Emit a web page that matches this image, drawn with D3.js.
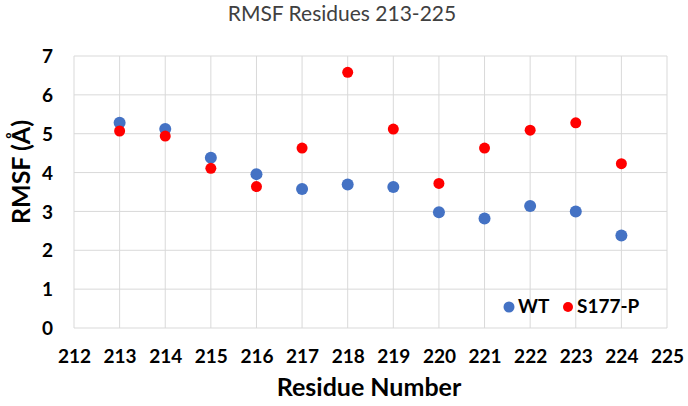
<!DOCTYPE html>
<html><head><meta charset="utf-8">
<script src="https://cdn.jsdelivr.net/npm/d3@7"></script>
<style>body{margin:0;background:#fff;}svg{display:block;font-family:Lato,"Open Sans",sans-serif;}</style>
</head><body><svg id="c" width="688" height="406"></svg>
<script>
const residues = [213,214,215,216,217,218,219,220,221,222,223,224];
const wt =    [5.28,5.12,4.38,3.96,3.58,3.69,3.63,2.98,2.82,3.14,3.00,2.38];
const s177p = [5.07,4.94,4.11,3.64,4.63,6.58,5.12,3.72,4.63,5.09,5.28,4.23];
const xTicks = d3.range(212,226);
const yTicks = [0,1,2,3,4,5,6,7];
const seriesNames = ["WT","S177-P"];
const colors = ["#4472C4","#FF0000"];

const svg = d3.select("#c");
const m = {l:74,r:21,t:56,b:78};
const W=688,H=406;
const x = d3.scaleLinear().domain([212,225]).range([m.l,W-m.r]);
const y = d3.scaleLinear().domain([0,7]).range([H-m.b,m.t]);

const g = svg.append("g");
g.selectAll(".gx").data(xTicks).enter().append("line")
 .attr("x1",d=>x(d)).attr("x2",d=>x(d)).attr("y1",y(0)).attr("y2",y(7))
 .attr("stroke","#d9d9d9").attr("stroke-width",1);
g.selectAll(".gy").data(yTicks).enter().append("line")
 .attr("y1",d=>y(d)).attr("y2",d=>y(d)).attr("x1",x(212)).attr("x2",x(225))
 .attr("stroke","#d9d9d9").attr("stroke-width",1);

const xAxis = d3.axisBottom(x).tickValues(xTicks).tickFormat(d3.format("d")).tickSize(0).tickPadding(0);
const xa = svg.append("g").attr("transform",`translate(0,${y(0)})`).call(xAxis);
xa.select(".domain").remove();
xa.selectAll("text").attr("dy",null).attr("y",35).attr("font-size",19).attr("font-weight","bold").attr("fill","#000").attr("font-family","Lato");

const yAxis = d3.axisLeft(y).tickValues(yTicks).tickFormat(d3.format("d")).tickSize(0).tickPadding(0);
const ya = svg.append("g").attr("transform",`translate(${m.l},0)`).call(yAxis);
ya.select(".domain").remove();
ya.selectAll("text").attr("x",-21).attr("dy","0.35em").attr("font-size",19).attr("font-weight","bold").attr("fill","#000").attr("font-family","Lato");

svg.append("g").selectAll("circle").data(residues.map((r,i)=>[r,wt[i]])).enter().append("circle")
 .attr("cx",d=>x(d[0])).attr("cy",d=>y(d[1])).attr("r",6).attr("fill",colors[0]);
svg.append("g").selectAll("circle").data(residues.map((r,i)=>[r,s177p[i]])).enter().append("circle")
 .attr("cx",d=>x(d[0])).attr("cy",d=>y(d[1])).attr("r",5.5).attr("fill",colors[1]);

svg.append("text").attr("x",342).attr("y",21).attr("text-anchor","middle").attr("font-size",21).attr("fill","#404040").text("RMSF Residues 213-225");
svg.append("text").attr("x",369).attr("y",396).attr("text-anchor","middle").attr("font-size",25).attr("font-weight","bold").attr("fill","#000").text("Residue Number");
svg.append("text").attr("transform","translate(30,172) rotate(-90)").attr("text-anchor","middle").attr("font-size",25).attr("font-weight","bold").attr("fill","#000").text("RMSF (Å)");

const leg = svg.append("g");
const lx = [509,568];
seriesNames.forEach((n,i)=>{
  leg.append("circle").attr("cx",lx[i]).attr("cy",307).attr("r",i?5:5.5).attr("fill",colors[i]);
  leg.append("text").attr("x",lx[i]+9).attr("y",313).attr("font-size",19).attr("font-weight","bold").attr("fill","#000").text(n);
});
</script></body></html>
